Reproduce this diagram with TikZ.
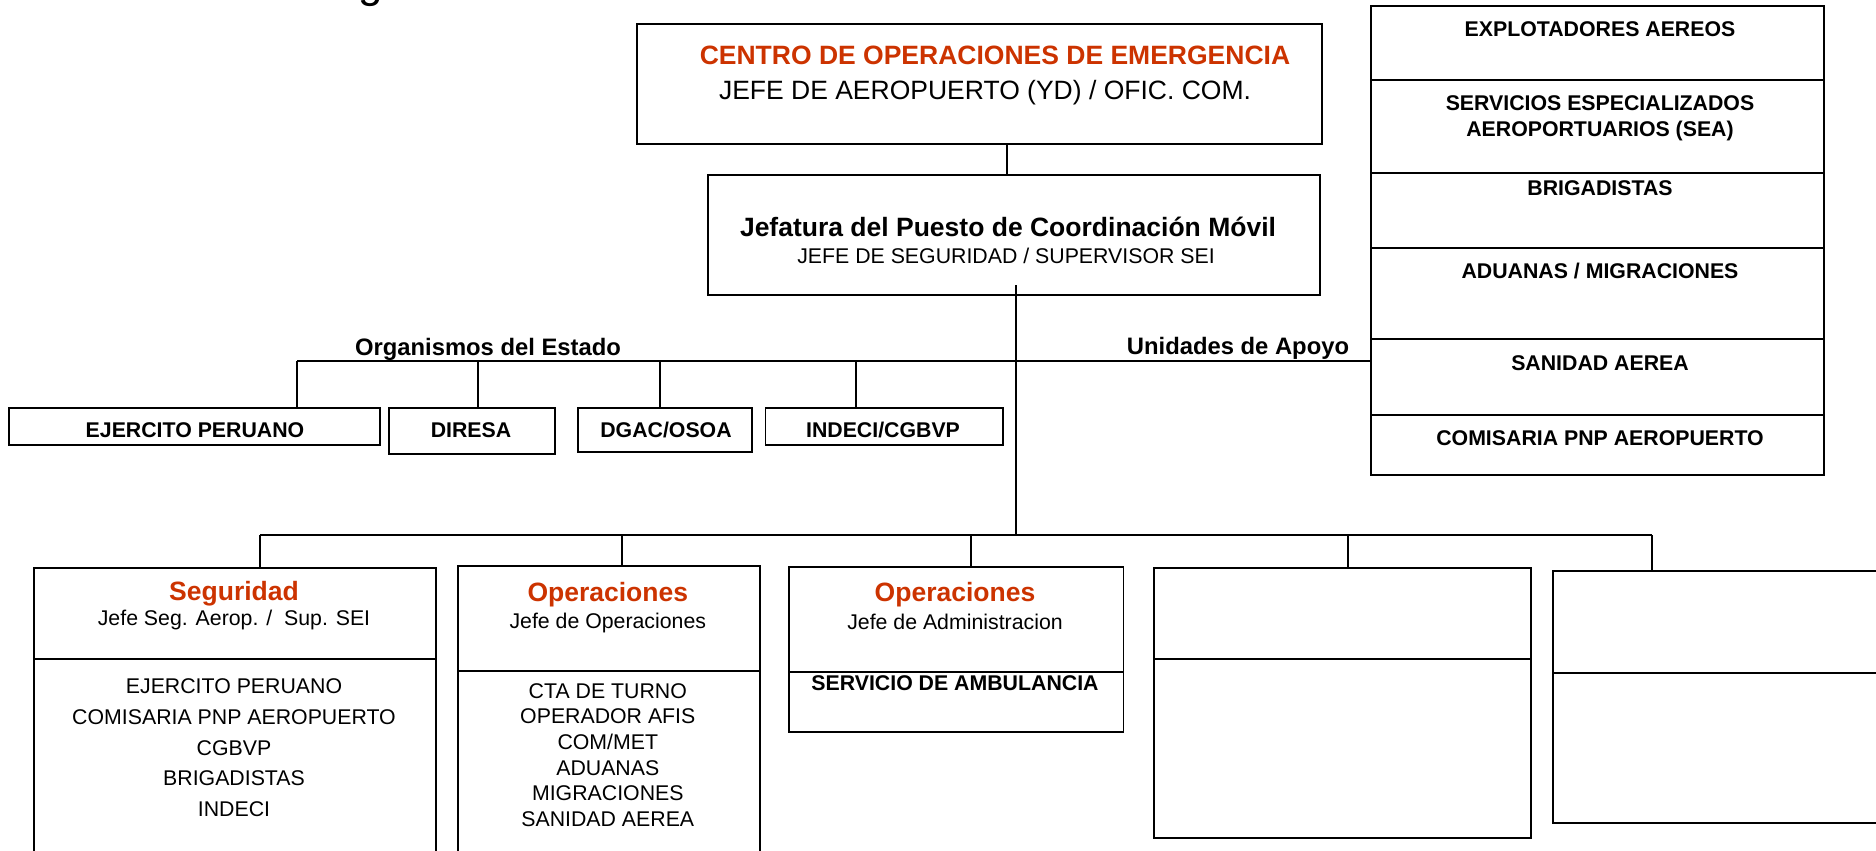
\documentclass[tikz,border=0pt]{standalone}
\usepackage{fontspec}
\setmainfont{Liberation Sans}
\definecolor{redtxt}{RGB}{204,51,0}
\tikzset{
  bx/.style={draw, line width=1.9pt, inner sep=0pt, anchor=north west},
  ln/.style={line width=1.9pt},
  tb/.style={inner sep=0pt, anchor=base, font=\fontsize{21.3}{25}\selectfont\bfseries},
  tr/.style={inner sep=0pt, anchor=base, font=\fontsize{21.3}{25}\selectfont},
  hb/.style={inner sep=0pt, anchor=base, font=\fontsize{26.5}{30}\selectfont\bfseries},
  hr/.style={inner sep=0pt, anchor=base, font=\fontsize{26.5}{30}\selectfont},
  lab/.style={inner sep=0pt, anchor=base, font=\fontsize{23.8}{28}\selectfont\bfseries},
}
\begin{document}
\begin{tikzpicture}[x=1pt, y=-1pt]
\useasboundingbox (0,0) rectangle (1876,851);
% cut-off title fragment
\node[inner sep=0pt, anchor=base, font=\fontsize{44}{50}\selectfont] (title) at (371,-2) {g};
% top boxes
\node[bx, minimum width=685pt, minimum height=120.6pt] (coe) at (636,22.7) {};
\node[hb, text=redtxt] (coet) at (995,65) {CENTRO DE OPERACIONES DE EMERGENCIA};
\node[hr] (coes) at (985,99.3) {JEFE DE AEROPUERTO (YD) / OFIC. COM.};
\node[bx, minimum width=612pt, minimum height=120pt] (jef) at (707,174) {};
\node[hb] (jeft) at (1008,236) {Jefatura del Puesto de Coordinación Móvil};
\node[tr] (jefs) at (1006,263.3) {JEFE DE SEGURIDAD / SUPERVISOR SEI};
\coordinate (c1) at (1007,0);
\draw[ln] (coe.south -| c1) -- (jef.north -| c1);
% right table
\node[bx, minimum width=453pt, minimum height=74pt] (r1) at (1370,5) {};
\node[bx, minimum width=453pt, minimum height=93pt] (r2) at (1370,79) {};
\node[bx, minimum width=453pt, minimum height=75pt] (r3) at (1370,172) {};
\node[bx, minimum width=453pt, minimum height=91pt] (r4) at (1370,247) {};
\node[bx, minimum width=453pt, minimum height=76pt] (r5) at (1370,338) {};
\node[bx, minimum width=453pt, minimum height=60pt] (r6) at (1370,414) {};
\node[tb] (r1t) at (1600,36.7) {EXPLOTADORES AEREOS};
\node[tb] (r2t) at (1600,110.7) {SERVICIOS ESPECIALIZADOS};
\node[tb] (r2u) at (1600,136) {AEROPORTUARIOS (SEA)};
\node[tb] (r3t) at (1600,195) {BRIGADISTAS};
\node[tb] (r4t) at (1600,278.3) {ADUANAS / MIGRACIONES};
\node[tb] (r5t) at (1600,370) {SANIDAD AEREA};
\node[tb] (r6t) at (1600,445) {COMISARIA PNP AEROPUERTO};
% trunk and organismos line
\coordinate (trtop) at (1016,285);
\coordinate (trbot) at (1016,535);
\draw[ln] (trtop) -- (trbot);
\coordinate (orgL) at (297,361);
\draw[ln] (orgL) -- (r5.west |- orgL);
\node[lab] (orgt) at (488,355) {Organismos del Estado};
\node[lab] (unit) at (1238,354) {Unidades de Apoyo};
% state boxes
\node[bx, minimum width=371pt, minimum height=37pt] (ejer) at (8,407) {};
\node[bx, minimum width=166pt, minimum height=46pt] (dire) at (388,407) {};
\node[bx, minimum width=174pt, minimum height=44pt] (dgac) at (577,407) {};
\node[bx, minimum width=237.5pt, minimum height=37pt] (inde) at (764.5,407) {};
\node[tb] (ejert) at (195,437.5) {EJERCITO PERUANO};
\node[tb] (diret) at (471,437.5) {DIRESA};
\node[tb] (dgact) at (666,437.5) {DGAC/OSOA};
\node[tb] (indet) at (883,437.5) {INDECI/CGBVP};
\coordinate (d1) at (297,361);
\coordinate (d2) at (478,361);
\coordinate (d3) at (660,361);
\coordinate (d4) at (855.6,361);
\draw[ln] (d1) -- (ejer.north -| d1);
\draw[ln] (d2) -- (dire.north -| d2);
\draw[ln] (d3) -- (dgac.north -| d3);
\draw[ln] (d4) -- (inde.north -| d4);
% bottom bus
\coordinate (busL) at (260,535);
\coordinate (busR) at (1651.6,535);
\draw[ln] (busL) -- (busR);
% bottom boxes
\node[bx, minimum width=402pt, minimum height=91pt] (seg) at (33,567) {};
\node[bx, minimum width=402pt, minimum height=220pt] (segb) at (33,658) {};
\node[bx, minimum width=302.4pt, minimum height=105pt] (op1) at (456.6,565) {};
\node[bx, minimum width=302.4pt, minimum height=210pt] (op1b) at (456.6,670) {};
\node[bx, minimum width=334.1pt, minimum height=105pt] (op2) at (788.4,566) {};
\node[bx, minimum width=334.1pt, minimum height=60pt] (op2b) at (788.4,671) {};
\node[bx, minimum width=377.4pt, minimum height=91pt] (b4) at (1152.6,567) {};
\node[bx, minimum width=377.4pt, minimum height=179pt] (b4b) at (1152.6,658) {};
\node[bx, minimum width=340pt, minimum height=102pt] (b5) at (1551.6,570) {};
\node[bx, minimum width=340pt, minimum height=150pt] (b5b) at (1551.6,672) {};
\coordinate (e1) at (260,535);
\coordinate (e2) at (622,535);
\coordinate (e3) at (970.8,535);
\coordinate (e4) at (1348,535);
\coordinate (e5) at (1651.6,535);
\draw[ln] (e1) -- (seg.north -| e1);
\draw[ln] (e2) -- (op1.north -| e2);
\draw[ln] (e3) -- (op2.north -| e3);
\draw[ln] (e4) -- (b4.north -| e4);
\draw[ln] (e5) -- (b5.north -| e5);
% texts in bottom boxes
\node[hb, text=redtxt] (segt) at (234,600.7) {Seguridad};
\node[tr] (segs) at (234,625) {Jefe Seg. Aerop. /\ \ Sup. SEI};
\node[tr] (sg1) at (234,693.3) {EJERCITO PERUANO};
\node[tr] (sg2) at (234,724) {COMISARIA PNP AEROPUERTO};
\node[tr] (sg3) at (234,755) {CGBVP};
\node[tr] (sg4) at (234,785) {BRIGADISTAS};
\node[tr] (sg5) at (234,816) {INDECI};
\node[hb, text=redtxt] (op1t) at (607.8,601.7) {Operaciones};
\node[tr] (op1s) at (607.8,628.3) {Jefe de Operaciones};
\node[tr] (o1) at (607.8,698) {CTA DE TURNO};
\node[tr] (o2) at (607.8,723) {OPERADOR AFIS};
\node[tr] (o3) at (607.8,749) {COM/MET};
\node[tr] (o4) at (607.8,775) {ADUANAS};
\node[tr] (o5) at (607.8,800) {MIGRACIONES};
\node[tr] (o6) at (607.8,826) {SANIDAD AEREA};
\node[hb, text=redtxt] (op2t) at (955,601.7) {Operaciones};
\node[tr] (op2s) at (955,629) {Jefe de Administracion};
\node[tb] (op2l) at (955,690.7) {SERVICIO DE AMBULANCIA};
\end{tikzpicture}
\end{document}
